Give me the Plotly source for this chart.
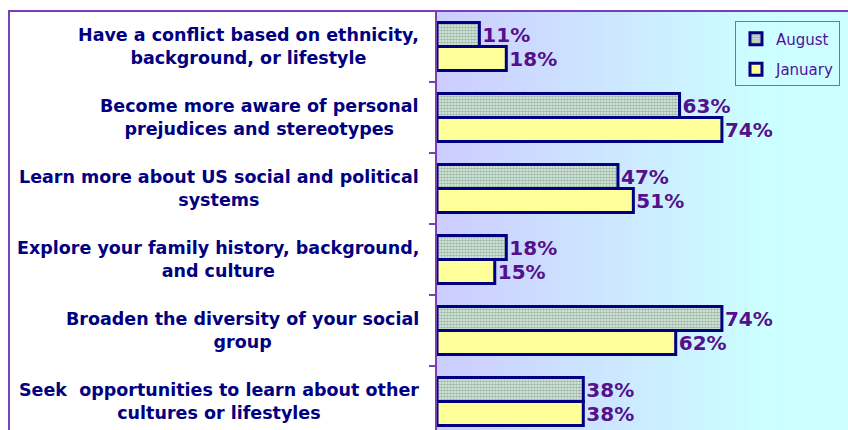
import plotly.graph_objects as go

categories = [
    "Have a conflict based on ethnicity,<br>background, or lifestyle",
    "Become more aware of personal<br>prejudices and stereotypes",
    "Learn more about US social and political<br>systems",
    "Explore your family history, background,<br>and culture",
    "Broaden the diversity of your social<br>group",
    "Seek\u00a0 opportunities to learn about other<br>cultures or lifestyles",
]
cat_ids = ["c1", "c2", "c3", "c4", "c5", "c6"]
august = [11, 63, 47, 18, 74, 38]
january = [18, 74, 51, 15, 62, 38]
series_names = ["August", "January"]

NAVY = "#000080"
PURPLE_TXT = "#55108C"
FRAME = "#7A3FB8"

fig = go.Figure()
fig.add_trace(go.Bar(
    y=cat_ids, x=august, name=series_names[0], orientation="h",
    legendgroup="a",
    marker=dict(color="#E8F2EC", line=dict(color=NAVY, width=3),
                pattern=dict(shape=".", size=3, solidity=0.65,
                             fgcolor="#557F66", bgcolor="#E6F2EA")),
    text=[f"{v}%" for v in august], textposition="outside", cliponaxis=False,
    constraintext="none",
    textfont=dict(family="DejaVu Sans", size=20, color=PURPLE_TXT, weight="bold"),
))
fig.add_trace(go.Bar(
    y=cat_ids, x=january, name=series_names[1], orientation="h",
    legendgroup="b",
    marker=dict(color="#FFFF99", line=dict(color=NAVY, width=3)),
    text=[f"{v}%" for v in january], textposition="outside", cliponaxis=False,
    constraintext="none",
    textfont=dict(family="DejaVu Sans", size=20, color=PURPLE_TXT, weight="bold"),
))

# gradient background strips
shapes = []
n = 80
c0 = (0xCC, 0xCC, 0xFF)
c1 = (0xCC, 0xFF, 0xFF)
for i in range(n):
    t = min(1.0, (i + 0.5) / n / 0.8)
    col = tuple(round(a + (b - a) * t) for a, b in zip(c0, c1))
    shapes.append(dict(type="rect", xref="paper", yref="paper",
                       x0=i / n, x1=(i + 1) / n + 0.002, y0=0, y1=1,
                       fillcolor="rgb(%d,%d,%d)" % col, line=dict(width=0),
                       layer="below"))
# outer chart frame
shapes.append(dict(type="rect", xref="paper", yref="paper",
                   x0=-1.0414, x1=1.2, y0=-0.5, y1=1.0,
                   line=dict(color=FRAME, width=2), fillcolor="rgba(0,0,0,0)",
                   layer="above"))

annotations = []
for cid, lab in zip(cat_ids, categories):
    annotations.append(dict(
        x=0, xref="paper", y=cid, yref="y", text=lab, showarrow=False,
        xanchor="right", yanchor="middle", xshift=-16, align="center",
        font=dict(family="DejaVu Sans", size=17.5, color=NAVY, weight="bold"),
    ))

fig.update_layout(
    width=848, height=430,
    margin=dict(l=437, r=0, t=11, b=0),
    paper_bgcolor="white", plot_bgcolor="#CCE4FF",
    barmode="group", bargap=0.324, bargroupgap=0.0,
    shapes=shapes, annotations=annotations,
    showlegend=True,
    legend=dict(x=0.9805, y=0.975, xanchor="right", yanchor="top",
                bgcolor="rgba(0,0,0,0)", bordercolor="#8A60C8", borderwidth=1,
                font=dict(family="DejaVu Sans", size=15, color="#5010A0"),
                traceorder="grouped", itemwidth=30, tracegroupgap=8),
    xaxis=dict(range=[0, 106.75], visible=False, showgrid=False, zeroline=False),
    yaxis=dict(type="category", range=[5.4, -0.5], showticklabels=False,
               showgrid=False, zeroline=False,
               showline=True, linecolor=FRAME, linewidth=2,
               ticks="outside", ticklen=6, tickcolor=FRAME, tickwidth=2,
               tickson="boundaries"),
)

fig.write_html(
    "out.html",
    config={"displayModeBar": False},
    post_script="document.body.style.margin='0';document.body.style.overflow='hidden';",
)
